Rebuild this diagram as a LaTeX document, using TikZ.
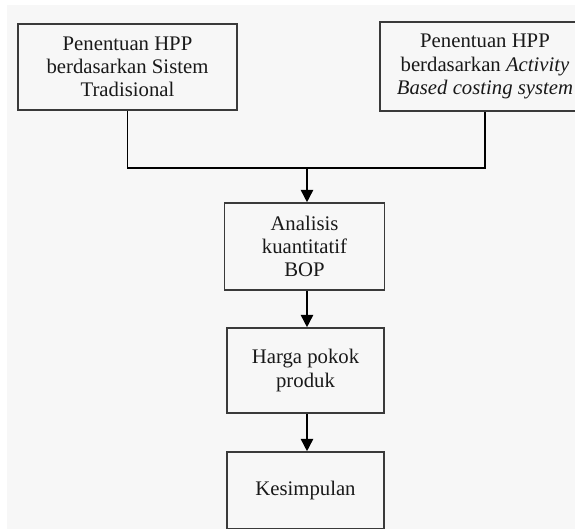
\documentclass[tikz,border=0pt]{standalone}
\usepackage{fontspec}
\setmainfont{Liberation Serif}
\usetikzlibrary{arrows.meta,positioning}
\definecolor{paper}{HTML}{F7F7F7}
\definecolor{boxline}{HTML}{3A3A3A}
\tikzset{>={Triangle[width=7pt,length=7pt]},
	box/.style={rectangle,draw=boxline,line width=0.9pt,align=center,inner sep=2pt,
		font=\fontsize{11.8}{13.2}\selectfont,text=black!90},
	link/.style={line width=0.9pt,black}}

\begin{document}
\begin{tikzpicture}[x=0.2mm,y=-0.2mm]
		\path[use as bounding box,clip] (0,0) rectangle (575,529);
		\fill[white] (0,0) rectangle (575,529);
		\fill[paper] (7,5) rectangle (575,529);
		% top row
		\node (trad) at (127.5,67) [box,minimum width=219*0.2mm,minimum height=86*0.2mm]
			{Penentuan HPP\\berdasarkan Sistem\\Tradisional};
		\node (abc) at (485,66.5) [box,minimum width=210*0.2mm,minimum height=89*0.2mm]
			{Penentuan HPP\\berdasarkan \textit{Activity}\\\textit{Based costing system}};
		% middle column
		\node (anl) at (304.5,246.5) [box,minimum width=160*0.2mm,minimum height=87*0.2mm]
			{Analisis\\kuantitatif\\BOP};
		\node (hpp) at (305.5,370.5) [box,minimum width=157*0.2mm,minimum height=85*0.2mm]
			{Harga pokok\\produk};
		\node (kes) at (305.5,490.5) [box,minimum width=157*0.2mm,minimum height=77*0.2mm]
			{Kesimpulan};
		\coordinate (jn) at (307,168);
		\draw [link] (trad.south) |- (jn) -| (abc.south);
		\draw [link,->] (jn) -- (jn |- anl.north);
		\draw [link,->] (anl.south -| jn) -- (hpp.north -| jn);
		\draw [link,->] (hpp.south -| jn) -- (kes.north -| jn);
\end{tikzpicture}
\end{document}
